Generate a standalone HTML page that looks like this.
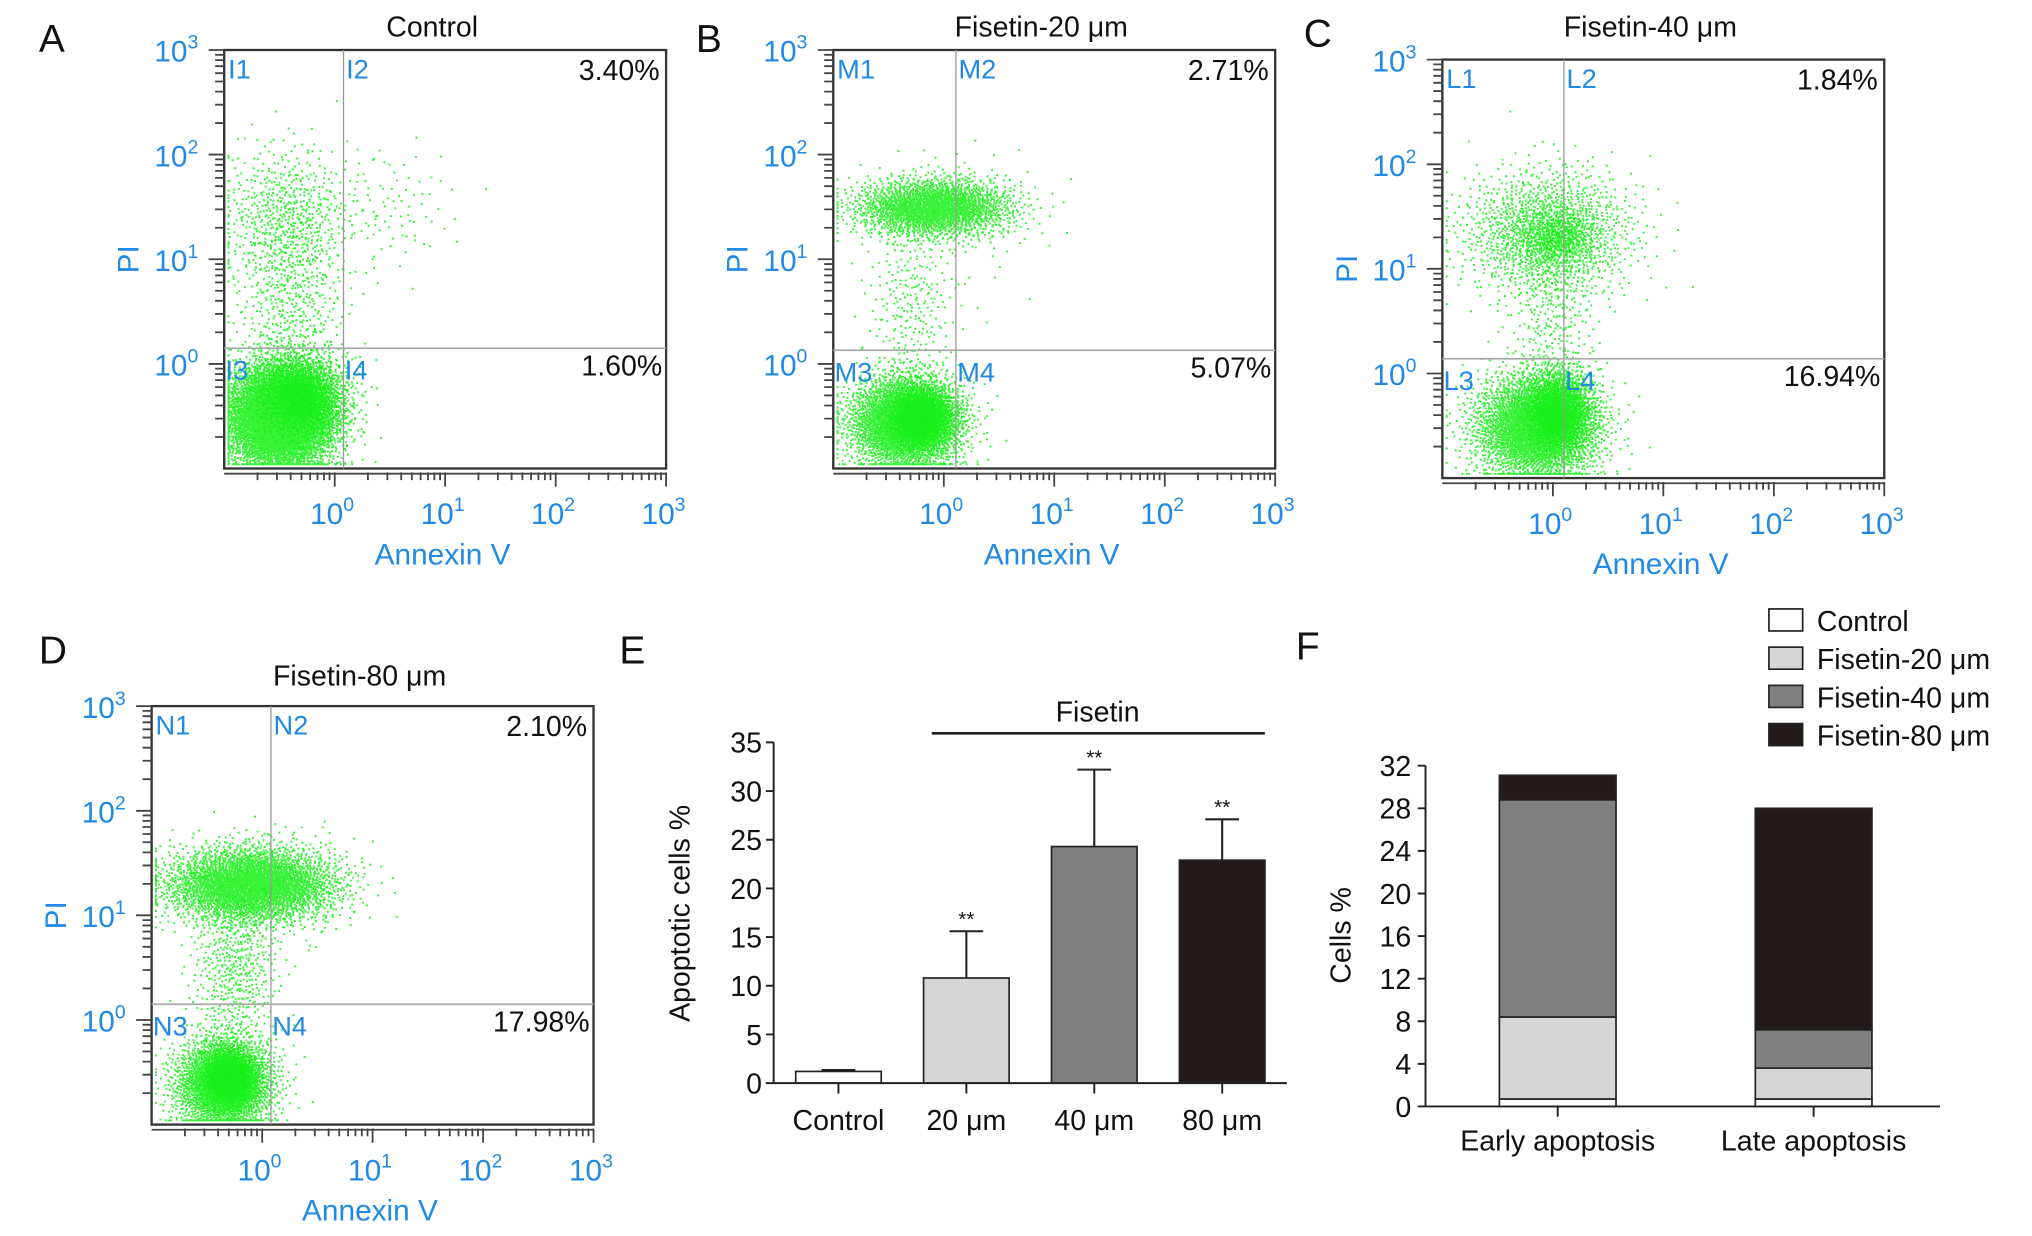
<!DOCTYPE html>
<html><head><meta charset="utf-8"><style>
html,body{margin:0;padding:0;background:#fff;}
svg{display:block;font-family:"Liberation Sans",sans-serif;}
</style></head><body>
<svg id="fig" xmlns="http://www.w3.org/2000/svg" width="2032" height="1236" viewBox="0 0 1568 954" preserveAspectRatio="none">
<rect width="1568" height="954" fill="#fff"/>
</svg>
<script>
// ---------- Flow cytometry data (log10 units; axis spans 10^-1..10^3) ----------
const panelNames = ["A","B","C","D"];
const panelTitles = ["Control","Fisetin-20 \u03bcm","Fisetin-40 \u03bcm","Fisetin-80 \u03bcm"];
const quadPrefix = ["I","M","L","N"];
const upperRightPct = ["3.40%","2.71%","1.84%","2.10%"];
const lowerRightPct = ["1.60%","5.07%","16.94%","17.98%"];
const gateX = [0.08,0.11,0.10,0.08];
const gateY = [0.15,0.13,0.14,0.15];
// clusters per panel: centre x, centre y, spread x, spread y, count
const clusterCX = [[-0.5,-0.3,-0.45,-0.4,0.5],[-0.35,-0.2,-0.1,-0.3,0.3],[-0.15,0.05,-0.05,0.0,0.05],[-0.35,-0.3,-0.1,-0.25,0.3]];
const clusterCY = [[-0.5,-0.3,1.4,0.5,1.5],[-0.55,-0.5,1.5,0.6,1.4],[-0.5,-0.35,1.35,0.6,1.3],[-0.6,-0.55,1.3,0.5,1.3]];
const clusterSX = [[0.25,0.2,0.3,0.25,0.3],[0.25,0.15,0.35,0.2,0.3],[0.28,0.15,0.38,0.2,0.15],[0.22,0.12,0.38,0.2,0.3]];
const clusterSY = [[0.25,0.2,0.35,0.5,0.3],[0.22,0.15,0.14,0.45,0.35],[0.25,0.2,0.3,0.45,0.12],[0.22,0.14,0.18,0.4,0.3]];
const clusterN  = [[6000,1500,600,500,90],[3500,1500,2200,260,60],[3500,1500,1500,280,300],[2800,1200,3500,500,60]];

// layout (not data)
const boxL = [173,643,1113,117], boxT = [38.6,38.6,46,545], titleY=[28,28,28,529];
const letterXY = [[30,40],[537,40],[1006,36],[30,512]];
const BW = 341, BH = 323;
const NS = "http://www.w3.org/2000/svg";
const svg = document.getElementById("fig");
const BLUE = "#2189e6";

function el(tag, attrs, parent, text){
  const e = document.createElementNS(NS, tag);
  for (const k in attrs) e.setAttribute(k, attrs[k]);
  if (text !== undefined) e.textContent = text;
  (parent||svg).appendChild(e);
  return e;
}
function halton(i,b){let f=1,r=0;while(i>0){f/=b;r+=f*(i%b);i=Math.floor(i/b);}return r;}
function pow10Label(g, x, y, exp, anchor){
  const t = el("text",{x:x,y:y,"font-size":23,fill:BLUE,"text-anchor":anchor}, g);
  el("tspan",{},t,"10");
  el("tspan",{"font-size":15,dy:-10},t,String(exp));
  return t;
}

for (let p=0;p<4;p++){
  const ox=boxL[p], oy=boxT[p];
  const xs = l => ox + (l+1)*BW/4;
  const ys = l => oy + (3-l)*BH/4;
  const g = el("g",{});
  
  
  const lt = el("text",{x:letterXY[p][0],y:letterXY[p][1],"font-size":30,fill:"#111"},g,panelNames[p]);
  
  
  const tt = el("text",{x:ox+BW/2-10,y:titleY[p],"font-size":22,fill:"#111","text-anchor":"middle"},g,panelTitles[p]);
  
  
  const clip = "clip"+p;
  const cp = el("clipPath",{id:clip},g); el("rect",{x:ox,y:oy,width:BW,height:BH},cp);
  let seed = 1;
  for (let c=0;c<clusterCX[p].length;c++){
    let d="";
    for (let i=0;i<clusterN[p][c];i++){
      seed++;
      const u1=Math.max(halton(seed,2),1e-6), u2=halton(seed,3);
      const r=Math.sqrt(-2*Math.log(u1));
      let lx=clusterCX[p][c]+clusterSX[p][c]*r*Math.cos(2*Math.PI*u2);
      let ly=clusterCY[p][c]+clusterSY[p][c]*r*Math.sin(2*Math.PI*u2);
      lx=Math.max(-0.97,Math.min(2.98,lx)); ly=Math.max(-0.95,Math.min(2.98,ly));
      d+="M"+xs(lx).toFixed(1)+" "+ys(ly).toFixed(1)+"h1.5v1.5h-1.5z";
    }
    const path = el("path",{d:d,fill:"#14f014","clip-path":"url(#"+clip+")",opacity:0.85},g);
    
    
  }
  const box = el("rect",{x:ox,y:oy,width:BW,height:BH,fill:"none",stroke:"#333","stroke-width":1.8},g);
  
  
  const gx=xs(gateX[p]), gy=ys(gateY[p]);
  const gv = el("line",{x1:gx,y1:oy,x2:gx,y2:oy+BH,stroke:"#999","stroke-width":1},g);
  
  
  const gh = el("line",{x1:ox,y1:gy,x2:ox+BW,y2:gy,stroke:"#aaa","stroke-width":1.3},g);
  
  
  let td="";
  for (let dcd=-1;dcd<3;dcd++){
    for (let m=1;m<10;m++){
      const l=dcd+Math.log10(m);
      if (l<-0.97) continue;
      const major = (m===1);
      td+="M"+(ox-(major?12:7))+" "+ys(l).toFixed(1)+"H"+ox;
      td+="M"+xs(l).toFixed(1)+" "+(oy+BH+3)+"V"+(oy+BH+(major?14:9));
    }
  }
  td+="M"+(ox-12)+" "+oy+"H"+ox+"M"+(ox+BW)+" "+(oy+BH+3)+"V"+(oy+BH+14);
  td+="M"+ox+" "+(oy+BH+4)+"H"+(ox+BW);
  const tk = el("path",{d:td,stroke:"#444","stroke-width":1.4,fill:"none"},g);
  
  
  for (let e=0;e<=3;e++){
    const yl = pow10Label(g, ox-20, ys(e)+9, e, "end");
    
    
    const xl = pow10Label(g, xs(e)-2, oy+BH+43, e, "middle");
    
    
  }
  const xt = el("text",{x:ox+BW/2-2,y:oy+BH+74,"font-size":23,fill:BLUE,"text-anchor":"middle"},g,"Annexin V");
  
  
  const yt = el("text",{x:0,y:0,"font-size":23,fill:BLUE,"text-anchor":"middle",transform:"translate("+(ox-66)+","+ys(1)+") rotate(-90)"},g,"PI");
  
  
  const q=[[ox+3,oy+22,"1"],[gx+2,oy+22,"2"],[ox+1,gy+24,"3"],[gx+1,gy+24,"4"]];
  for (const qq of q){
    const ql = el("text",{x:qq[0],y:qq[1],"font-size":21,fill:BLUE},g,quadPrefix[p]+qq[2]);
    
    
  }
  const p1 = el("text",{x:ox+BW-5,y:oy+23,"font-size":22,fill:"#111","text-anchor":"end"},g,upperRightPct[p]);
  
  
  const p2 = el("text",{x:ox+BW-3,y:gy+21,"font-size":22,fill:"#111","text-anchor":"end"},g,lowerRightPct[p]);
  
  
}
</script>
<script>
// ---------- Panel E: bar chart ----------
const eCategories = ["Control","20 \u03bcm","40 \u03bcm","80 \u03bcm"];
const eValues = [1.2,10.8,24.3,22.9];
const eErrors = [0.15,4.8,7.9,4.2];
const eStars = ["","**","**","**"];
const eTicks = [0,5,10,15,20,25,30,35];
const eColors = ["#ffffff","#d6d6d6","#808080","#231a1a"];
(function(){
  const NS="http://www.w3.org/2000/svg", svg=document.getElementById("fig");
  function el(tag,a,p,t){const e=document.createElementNS(NS,tag);for(const k in a)e.setAttribute(k,a[k]);if(t!==undefined)e.textContent=t;(p||svg).appendChild(e);return e;}
  const x0=597, x1=993, y0=836, yTop=573, yMax=35;
  const ys=v=>y0-(v/yMax)*(y0-yTop);
  const step=98.7, bw=66, xc=i=>647+i*step;
  const g=el("g",{});
  
  
  const L=el("text",{x:478,y:512,"font-size":30,fill:"#111"},g,"E");
  
  
  for(let i=0;i<eValues.length;i++){
    const top=ys(eValues[i]);
    const b=el("rect",{x:xc(i)-bw/2,y:top,width:bw,height:y0-top,fill:eColors[i],stroke:"#222","stroke-width":1.3},g);
    
    
    const et=ys(eValues[i]+eErrors[i]);
    const e=el("path",{d:"M"+xc(i)+" "+top+"V"+et+"M"+(xc(i)-13)+" "+et+"H"+(xc(i)+13),stroke:"#222","stroke-width":1.6,fill:"none"},g);
    
    
    if(eStars[i]){
      const s=el("text",{x:xc(i),y:et-4,"font-size":16,fill:"#111","text-anchor":"middle"},g,eStars[i]);
      
      
    }
    const tl=el("text",{x:xc(i),y:872,"font-size":22,fill:"#111","text-anchor":"middle"},g,eCategories[i]);
    
    
  }
  let d="M"+x0+" "+yTop+"V"+y0+"H"+x1;
  for(const t of eTicks) d+="M"+(x0-6)+" "+ys(t)+"H"+x0;
  for(let i=0;i<eValues.length;i++) d+="M"+xc(i)+" "+y0+"V"+(y0+8);
  const ax=el("path",{d:d,stroke:"#222","stroke-width":1.5,fill:"none"},g);
  
  
  for(const t of eTicks){
    const tl=el("text",{x:588,y:ys(t)+8,"font-size":22,fill:"#111","text-anchor":"end"},g,String(t));
    
    
  }
  const yt=el("text",{x:0,y:0,"font-size":22,fill:"#111","text-anchor":"middle",transform:"translate(532,705) rotate(-90)"},g,"Apoptotic cells %");
  
  
  const fl=el("line",{x1:719,y1:566,x2:976,y2:566,stroke:"#222","stroke-width":2},g);
  
  
  const ft=el("text",{x:847,y:557,"font-size":22,fill:"#111","text-anchor":"middle"},g,"Fisetin");
  
  
})();
</script>
<script>
// ---------- Panel F: stacked bars ----------
const fCategories = ["Early apoptosis","Late apoptosis"];
const fSeriesNames = ["Control","Fisetin-20 \u03bcm","Fisetin-40 \u03bcm","Fisetin-80 \u03bcm"];
const fControl = [0.7,0.7];
const fFis20 = [7.7,2.9];
const fFis40 = [20.4,3.6];
const fFis80 = [2.3,20.8];
const fTicks = [0,4,8,12,16,20,24,28,32];
const fColors = ["#ffffff","#d6d6d6","#808080","#231a1a"];
(function(){
  const NS="http://www.w3.org/2000/svg", svg=document.getElementById("fig");
  function el(tag,a,p,t){const e=document.createElementNS(NS,tag);for(const k in a)e.setAttribute(k,a[k]);if(t!==undefined)e.textContent=t;(p||svg).appendChild(e);return e;}
  const x0=1100, x1=1497, y0=854, yTop=591, yMax=32;
  const ys=v=>y0-(v/yMax)*(y0-yTop);
  const xc=i=>1202+i*197.5, bw=90;
  const series=[fControl,fFis20,fFis40,fFis80];
  const g=el("g",{});
  
  
  const L=el("text",{x:1000,y:509,"font-size":30,fill:"#111"},g,"F");
  
  
  for(let i=0;i<fCategories.length;i++){
    let acc=0;
    for(let s=0;s<series.length;s++){
      const v=series[s][i];
      const r=el("rect",{x:xc(i)-bw/2,y:ys(acc+v),width:bw,height:ys(acc)-ys(acc+v),fill:fColors[s],stroke:"#222","stroke-width":1.3},g);
      
      
      acc+=v;
    }
    const tl=el("text",{x:xc(i),y:888,"font-size":22,fill:"#111","text-anchor":"middle"},g,fCategories[i]);
    
    
  }
  let d="M"+x0+" "+yTop+"V"+y0+"H"+x1;
  for(const t of fTicks) d+="M"+(x0-6)+" "+ys(t)+"H"+x0;
  for(let i=0;i<fCategories.length;i++) d+="M"+xc(i)+" "+y0+"V"+(y0+8);
  const ax=el("path",{d:d,stroke:"#222","stroke-width":1.5,fill:"none"},g);
  
  
  for(const t of fTicks){
    const tl=el("text",{x:1089,y:ys(t)+8,"font-size":22,fill:"#111","text-anchor":"end"},g,String(t));
    
    
  }
  const yt=el("text",{x:0,y:0,"font-size":22,fill:"#111","text-anchor":"middle",transform:"translate(1042,722) rotate(-90)"},g,"Cells %");
  
  
  for(let s=0;s<fSeriesNames.length;s++){
    const y=470+s*29.5;
    const lg=el("g",{},g);
    
    
    el("rect",{x:1365,y:y,width:26,height:17,fill:fColors[s],stroke:"#222","stroke-width":1.3},lg);
    el("text",{x:1402,y:y+17,"font-size":22,fill:"#111"},lg,fSeriesNames[s]);
  }
})();
</script>
</body></html>
